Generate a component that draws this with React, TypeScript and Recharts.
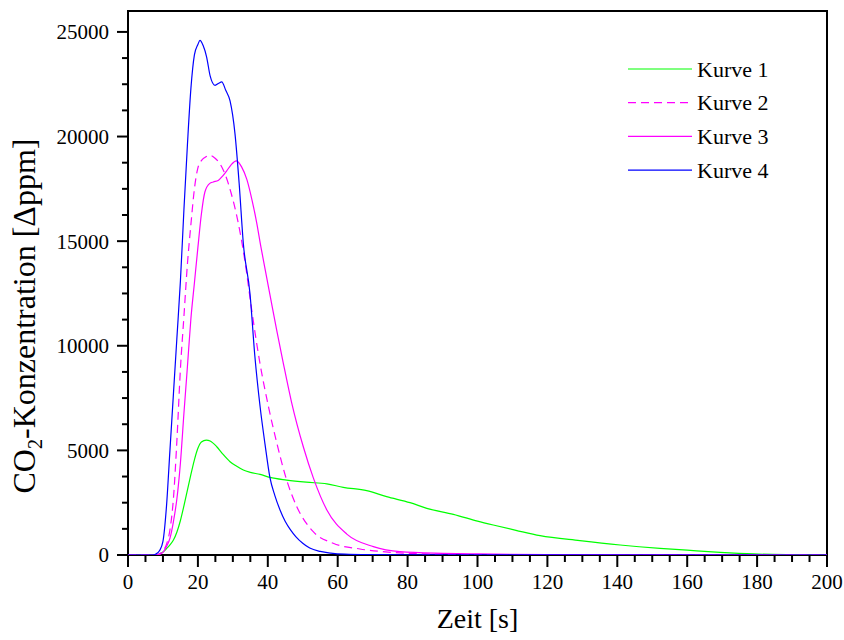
import React from 'react';
import { LineChart, Line, XAxis, YAxis, ReferenceArea } from 'recharts';

// Kurve 1 (green)
const time1 = [0, 8, 9, 10, 11, 12, 13, 14, 15, 16, 17, 18, 19, 20, 21, 22.4, 23.5, 25.4, 27, 29.2, 31, 33, 35, 37.8, 40.6, 45.4, 51, 56.9, 61.6, 68.3, 74, 80.7, 85.5, 93.1, 100, 104.5, 111, 117.9, 129.3, 140.8, 152.2, 160, 169.4, 179, 190, 200];
const value1 = [0, 0, 40, 140, 300, 480, 716, 1100, 1650, 2350, 3100, 3850, 4550, 5100, 5400, 5494, 5450, 5174, 4850, 4460, 4250, 4060, 3950, 3850, 3710, 3583, 3480, 3400, 3234, 3074, 2787, 2500, 2230, 1944, 1620, 1433, 1180, 923, 685, 478, 318, 230, 127, 50, 15, 0];

// Kurve 2 (magenta, dashed)
const time2 = [0, 8, 9, 10, 11, 12, 13, 14, 15, 16, 17, 18, 19, 20, 21, 22, 23.5, 25, 26.5, 28, 29.5, 31, 32.2, 33.5, 35.4, 37.6, 40.2, 42.6, 45.4, 48.3, 53, 58.7, 66.4, 76, 85, 100, 120, 200];
const value2 = [0, 0, 60, 200, 500, 1200, 2700, 5500, 8900, 11400, 13900, 15800, 17500, 18500, 18850, 19000, 19100, 18950, 18650, 18100, 17300, 16300, 15300, 14000, 11700, 9315, 7085, 5335, 3583, 2307, 1115, 560, 287, 120, 50, 20, 5, 0];

// Kurve 3 (magenta)
const time3 = [0, 8, 9, 10, 11, 12, 13, 14, 15, 16, 17, 18, 19, 20, 21, 22, 23.4, 24.4, 25.8, 27, 28.2, 29.5, 31, 32.5, 34, 35.5, 36.8, 38, 39.7, 41, 42.6, 44.4, 46.8, 50.2, 53, 56.9, 62.6, 70.2, 77.8, 90, 100, 120, 200];
const value3 = [0, 0, 30, 130, 400, 800, 1600, 2700, 4400, 6760, 9000, 11300, 13000, 14700, 16300, 17350, 17760, 17830, 17900, 18100, 18350, 18650, 18840, 18550, 17950, 16950, 15900, 14750, 13250, 12100, 10700, 9200, 7300, 5150, 3700, 2150, 1000, 400, 159, 80, 50, 20, 0];

// Kurve 4 (blue)
const time4 = [0, 7, 8, 9, 10, 11, 12, 13, 14, 15, 16, 17, 18, 19, 20, 20.6, 21.5, 22.5, 23.5, 24.9, 26, 26.8, 28, 29.2, 30.6, 31.8, 33, 34.9, 36.3, 37.8, 39.2, 40.6, 42, 43.5, 45, 46.5, 48, 50, 52, 55, 58, 62, 70, 80, 200];
const value4 = [0, 0, 50, 200, 650, 2300, 5000, 7700, 10400, 13100, 16500, 19600, 22300, 23900, 24400, 24600, 24350, 23800, 22900, 22450, 22550, 22610, 22200, 21700, 20150, 17770, 14890, 12500, 9500, 7085, 5300, 3710, 2850, 2150, 1600, 1200, 880, 560, 330, 170, 90, 40, 15, 5, 0];

const xTickLabels = [0, 20, 40, 60, 80, 100, 120, 140, 160, 180, 200];
const yTickLabels = [0, 5000, 10000, 15000, 20000, 25000];
const seriesNames = ['Kurve 1', 'Kurve 2', 'Kurve 3', 'Kurve 4'];
const seriesColors = ['#00ff00', '#ff00ff', '#ff00ff', '#0000ff'];
const seriesDash = ['', '8 5', '', ''];

const FONT = 'Liberation Serif, Times New Roman, serif';

const toPoints = (t: number[], v: number[]) => t.map((x, i) => ({ t: x, v: v[i] }));
const seriesData = [toPoints(time1, value1), toPoints(time2, value2), toPoints(time3, value3), toPoints(time4, value4)];

// minor ticks: 3 between each labelled tick
const xTicks: number[] = [];
xTickLabels.forEach((v, i) => {
  xTicks.push(v);
  if (i < xTickLabels.length - 1) xTicks.push(v + 5, v + 10, v + 15);
});
const yTicks: number[] = [];
yTickLabels.forEach((v, i) => {
  yTicks.push(v);
  if (i < yTickLabels.length - 1) yTicks.push(v + 1250, v + 2500, v + 3750);
});

const XTick = (props: any) => {
  const { x, y, payload } = props;
  const major = xTickLabels.includes(payload.value);
  return (
    <g>
      <line x1={x} x2={x} y1={y} y2={y + (major ? 12 : 7)} stroke="#000" strokeWidth={2} />
      {major && (
        <text x={x} y={y + 34} textAnchor="middle" fontSize={21} style={{ fontFamily: FONT }} fill="#000">
          {payload.value}
        </text>
      )}
    </g>
  );
};

const YTick = (props: any) => {
  const { x, y, payload } = props;
  const major = yTickLabels.includes(payload.value);
  return (
    <g>
      <line x1={x} x2={x - (major ? 11 : 6)} y1={y} y2={y} stroke="#000" strokeWidth={2} />
      {major && (
        <text x={x - 19} y={y} dy="0.35em" textAnchor="end" fontSize={21} style={{ fontFamily: FONT }} fill="#000">
          {payload.value}
        </text>
      )}
    </g>
  );
};

export default function App() {
  return (
    <div style={{ position: 'relative', width: 844, height: 640, background: '#fff', fontFamily: FONT }}>
      <style>{'body{margin:0} svg text{font-family:"Liberation Serif","Times New Roman",serif !important;}'}</style>
      <LineChart width={844} height={640} margin={{ top: 11, right: 17, left: 10, bottom: 25 }}>
        <XAxis
          type="number"
          dataKey="t"
          domain={[0, 200]}
          ticks={xTicks}
          interval={0}
          tick={<XTick />}
          tickLine={false}
          axisLine={false}
          tickSize={0}
          tickMargin={0}
          height={60}
          allowDataOverflow
        />
        <YAxis
          type="number"
          domain={[0, 26000]}
          ticks={yTicks}
          interval={0}
          tick={<YTick />}
          tickLine={false}
          axisLine={false}
          tickSize={0}
          tickMargin={0}
          width={118}
          allowDataOverflow
        />
        <ReferenceArea x1={0} x2={200} y1={0} y2={26000} fill="none" fillOpacity={0} stroke="#000" strokeWidth={2} ifOverflow="visible" />
        {seriesData.map((d, i) => (
          <Line
            key={seriesNames[i]}
            data={d}
            dataKey="v"
            name={seriesNames[i]}
            type="monotone"
            stroke={seriesColors[i]}
            strokeWidth={1.2}
            strokeDasharray={seriesDash[i] || undefined}
            dot={false}
            activeDot={false}
            isAnimationActive={false}
          />
        ))}
      </LineChart>
      <svg width={844} height={640} style={{ position: 'absolute', left: 0, top: 0, pointerEvents: 'none' }}>
        {seriesNames.map((name, i) => {
          const y = 69 + i * 33.7;
          return (
            <g key={name}>
              <line x1={628} x2={692} y1={y} y2={y} stroke={seriesColors[i]} strokeWidth={1.2} strokeDasharray={seriesDash[i] || undefined} />
              <text x={697} y={y} dy="0.35em" fontSize={22} fill="#000">{name}</text>
            </g>
          );
        })}
        <text x={477.5} y={628} textAnchor="middle" fontSize={28} fill="#000">Zeit [s]</text>
        <text transform="translate(35, 316) rotate(-90)" textAnchor="middle" fontSize={32} fill="#000">
          CO<tspan dy={7} fontSize={20}>2</tspan><tspan dy={-7}>-Konzentration [Δppm]</tspan>
        </text>
      </svg>
    </div>
  );
}
